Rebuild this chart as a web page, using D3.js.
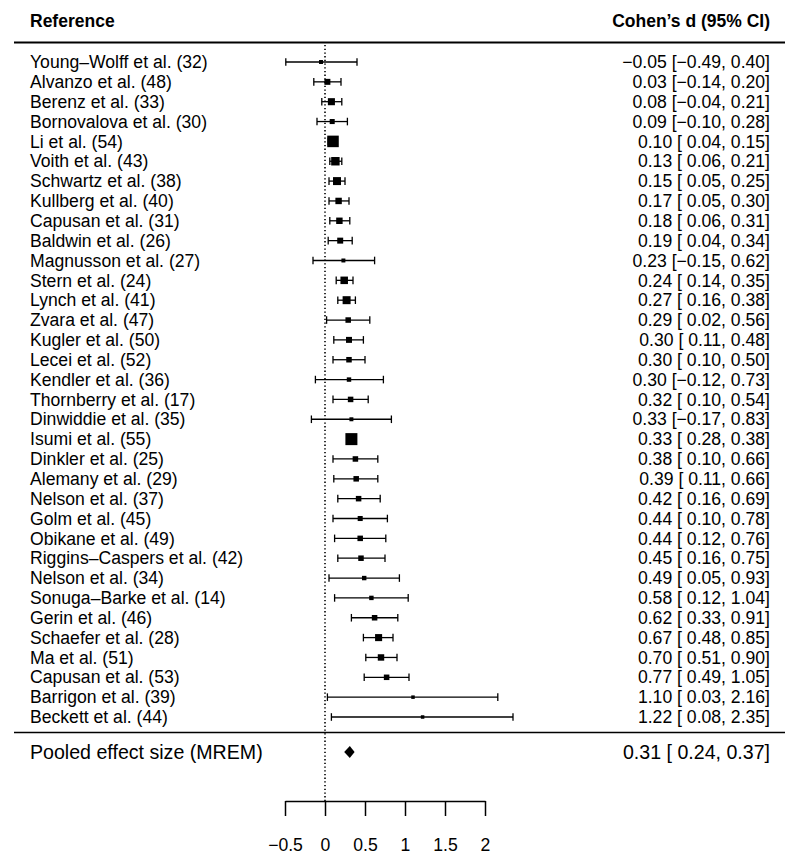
<!DOCTYPE html>
<html>
<head>
<meta charset="utf-8">
<script src="https://cdn.jsdelivr.net/npm/d3@7"></script>
<style>
  body { margin: 0; background: #fff; }
  svg text { font-family: "Liberation Sans", Arial, Helvetica, sans-serif; fill: #000; }
</style>
</head>
<body>
<div id="chart"></div>
<script>
// Width and height
var width  = 800;
var height = 868;

// study data
var studies = ["Young\u2013Wolff et al. (32)", "Alvanzo et al. (48)", "Berenz et al. (33)",
    "Bornovalova et al. (30)", "Li et al. (54)", "Voith et al. (43)", "Schwartz et al. (38)",
    "Kullberg et al. (40)", "Capusan et al. (31)", "Baldwin et al. (26)", "Magnusson et al. (27)",
    "Stern et al. (24)", "Lynch et al. (41)", "Zvara et al. (47)", "Kugler et al. (50)",
    "Lecei et al. (52)", "Kendler et al. (36)", "Thornberry et al. (17)", "Dinwiddie et al. (35)",
    "Isumi et al. (55)", "Dinkler et al. (25)", "Alemany et al. (29)", "Nelson et al. (37)",
    "Golm et al. (45)", "Obikane et al. (49)", "Riggins\u2013Caspers et al. (42)", "Nelson et al. (34)",
    "Sonuga\u2013Barke et al. (14)", "Gerin et al. (46)", "Schaefer et al. (28)", "Ma et al. (51)",
    "Capusan et al. (53)", "Barrigon et al. (39)", "Beckett et al. (44)"];

var estimates = [-0.05, 0.03, 0.08, 0.09, 0.10, 0.13, 0.15, 0.17, 0.18, 0.19, 0.23, 0.24, 0.27,
    0.29, 0.30, 0.30, 0.30, 0.32, 0.33, 0.33, 0.38, 0.39, 0.42, 0.44, 0.44, 0.45, 0.49, 0.58,
    0.62, 0.67, 0.70, 0.77, 1.10, 1.22];

var lower = [-0.49, -0.14, -0.04, -0.10, 0.04, 0.06, 0.05, 0.05, 0.06, 0.04, -0.15, 0.14, 0.16,
    0.02, 0.11, 0.10, -0.12, 0.10, -0.17, 0.28, 0.10, 0.11, 0.16, 0.10, 0.12, 0.16, 0.05, 0.12,
    0.33, 0.48, 0.51, 0.49, 0.03, 0.08];

var upper = [0.40, 0.20, 0.21, 0.28, 0.15, 0.21, 0.25, 0.30, 0.31, 0.34, 0.62, 0.35, 0.38,
    0.56, 0.48, 0.50, 0.73, 0.54, 0.83, 0.38, 0.66, 0.66, 0.69, 0.78, 0.76, 0.75, 0.93, 1.04,
    0.91, 0.85, 0.90, 1.05, 2.16, 2.35];

// relative weights (%), estimated from the square sizes
var weights = [0.8, 2.1, 2.8, 1.5, 5.7, 3.7, 3.4, 2.4, 2.4, 2.1, 0.8, 3.1, 3.4, 1.8, 2.1, 1.8,
    1.1, 1.8, 0.8, 6.0, 1.8, 1.8, 1.8, 1.5, 1.8, 1.8, 1.1, 1.1, 1.8, 2.8, 2.4, 1.8, 0.5, 0.5];

// pooled estimate
var pooledLabel = "Pooled effect size (MREM)";
var pooled = [0.31, 0.24, 0.37];

var tickValues = [-0.5, 0, 0.5, 1, 1.5, 2];

// number format like metafor: unicode minus, pad non-negative lower bound
function fmt(v) {
    var s = Math.abs(v).toFixed(2);
    return (v < 0 ? "\u2212" : "") + s;
}
function ciText(e, l, u) {
    return fmt(e) + " [" + (l < 0 ? "" : " ") + fmt(l) + ", " + fmt(u) + "]";
}

// scales
var x = d3.scaleLinear()
    .domain([-0.5, 2])
    .range([285, 485]);

var y = d3.scaleLinear()
    .domain([0, studies.length - 1])
    .range([62, 717]);

var size = d3.scaleLinear()
    .domain([d3.min(weights), d3.max(weights)])
    .range([3.5, 12]);

var svg = d3.select("#chart")
    .append("svg")
    .attr("width", width)
    .attr("height", height);

// header
svg.append("text")
    .attr("x", 30)
    .attr("y", 27)
    .style("font-size", "17.5px")
    .style("font-weight", "bold")
    .text("Reference");
svg.append("text")
    .attr("x", 770)
    .attr("y", 27)
    .attr("text-anchor", "end")
    .style("font-size", "17.5px")
    .style("font-weight", "bold")
    .text("Cohen\u2019s d (95% CI)");

// horizontal rules
svg.append("line")
    .attr("x1", 14).attr("x2", 785)
    .attr("y1", 42.5).attr("y2", 42.5)
    .style("stroke", "#000")
    .style("stroke-width", "1.8px");
svg.append("line")
    .attr("x1", 14).attr("x2", 785)
    .attr("y1", 732.5).attr("y2", 732.5)
    .style("stroke", "#000")
    .style("stroke-width", "1.5px");

// reference line at zero
svg.append("line")
    .attr("x1", x(0)).attr("x2", x(0))
    .attr("y1", 45).attr("y2", 801)
    .style("stroke", "#000")
    .style("stroke-width", "1.6px")
    .style("stroke-dasharray", "1.3,2.4");

var rows = svg.append("g")
    .selectAll("g")
    .data(studies)
    .enter()
    .append("g")
    .attr("transform", function(d, i){ return "translate(0," + y(i) + ")"; });

// labels
rows.append("text")
    .attr("x", 30)
    .attr("dy", "0.35em")
    .style("font-size", "17.6px")
    .text(function(d){ return d; });

rows.append("text")
    .attr("x", 770)
    .attr("dy", "0.35em")
    .attr("text-anchor", "end")
    .style("font-size", "17.6px")
    .text(function(d, i){ return ciText(estimates[i], lower[i], upper[i]); });

// CI whiskers
rows.append("line")
    .attr("x1", function(d, i){ return x(lower[i]); })
    .attr("x2", function(d, i){ return x(upper[i]); })
    .style("stroke", "#000")
    .style("stroke-width", "1.3px");
rows.append("line")
    .attr("x1", function(d, i){ return x(lower[i]); })
    .attr("x2", function(d, i){ return x(lower[i]); })
    .attr("y1", -3.8).attr("y2", 3.8)
    .style("stroke", "#000")
    .style("stroke-width", "1.3px");
rows.append("line")
    .attr("x1", function(d, i){ return x(upper[i]); })
    .attr("x2", function(d, i){ return x(upper[i]); })
    .attr("y1", -3.8).attr("y2", 3.8)
    .style("stroke", "#000")
    .style("stroke-width", "1.3px");

// weight squares
rows.append("rect")
    .attr("x", function(d, i){ return x(estimates[i]) - size(weights[i]) / 2; })
    .attr("y", function(d, i){ return -size(weights[i]) / 2; })
    .attr("width", function(d, i){ return size(weights[i]); })
    .attr("height", function(d, i){ return size(weights[i]); })
    .style("fill", "#000");

// pooled row
var pooledY = 752;
svg.append("text")
    .attr("x", 30)
    .attr("y", pooledY)
    .attr("dy", "0.35em")
    .style("font-size", "19.6px")
    .text(pooledLabel);
svg.append("text")
    .attr("x", 770)
    .attr("y", pooledY)
    .attr("dy", "0.35em")
    .attr("text-anchor", "end")
    .style("font-size", "19.6px")
    .text(ciText(pooled[0], pooled[1], pooled[2]));
svg.append("polygon")
    .attr("points", [
        [x(pooled[1]), pooledY], [x(pooled[0]), pooledY - 6],
        [x(pooled[2]), pooledY], [x(pooled[0]), pooledY + 6]
    ].map(function(p){ return p.join(","); }).join(" "))
    .style("fill", "#000");

// x axis
var axis = svg.append("g")
    .attr("transform", "translate(0,801)")
    .call(d3.axisBottom(x)
        .tickValues(tickValues)
        .tickFormat(d3.format("~g"))
        .tickSize(15)
        .tickSizeOuter(0)
        .tickPadding(23));
axis.selectAll("path, line")
    .style("stroke", "#000")
    .style("stroke-width", "1.5px");
axis.selectAll("text")
    .style("font-size", "17.6px")
    .style("font-family", "'Liberation Sans', Arial, sans-serif");
</script>
</body>
</html>
